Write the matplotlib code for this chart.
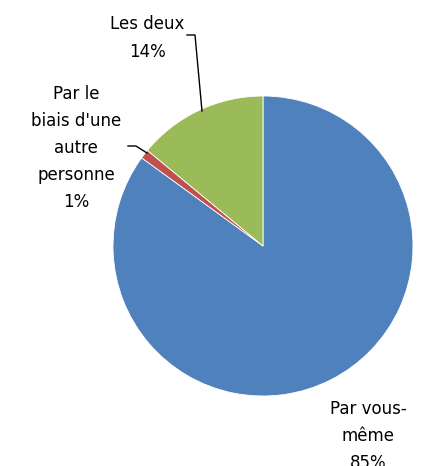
import matplotlib
matplotlib.use("Agg")
import matplotlib.pyplot as plt

# pie data (clockwise from 12 o'clock)
labels = ["Par vous-\nmême", "Par le\nbiais d'une\nautre\npersonne", "Les deux"]
values = [85, 1, 14]
colors = ["#4F81BD", "#C0504D", "#9BBB59"]

W, H = 423, 466
CX, CY, R = 263, 246, 150  # pie centre / radius in pixels

fig = plt.figure(figsize=(W / 100, H / 100), dpi=100)
ax = fig.add_axes([(CX - R) / W, (H - CY - R) / H, 2 * R / W, 2 * R / H])

ax.pie(values, colors=colors, startangle=90, counterclock=False, radius=1,
       wedgeprops=dict(edgecolor="white", linewidth=0.6))
ax.set_xlim(-1, 1)
ax.set_ylim(-1, 1)
ax.set_aspect("equal")
ax.axis("off")


def px(x, y):
    # pixel position -> data coords of the pie axes
    return (x - CX) / R, (CY - y) / R


font = dict(family=["DejaVu Sans"], fontsize=12, ha="center", va="center",
            linespacing=1.65, color="#000000")

txt_pos = [(368, 436), (76, 148), (147, 38)]
for lab, v, (x, y) in zip(labels, values, txt_pos):
    tx, ty = px(x, y)
    ax.text(tx, ty, "%s\n%d%%" % (lab, v), clip_on=False, **font)

# leader lines
for pts in ([(187, 35), (195, 35), (202, 111)],
            [(128, 146), (136, 146), (147, 153)]):
    xs, ys = zip(*[px(a, b) for a, b in pts])
    ax.plot(xs, ys, color="black", linewidth=1, clip_on=False)

fig.savefig("out.png", dpi=100)
